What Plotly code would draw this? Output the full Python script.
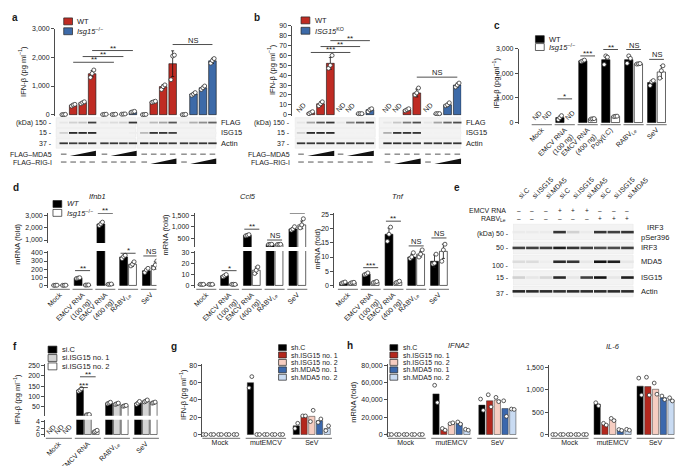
import plotly.graph_objects as go

W, H = 685, 466
FONT = "Liberation Sans, Arial, Helvetica, sans-serif"
TXT = "#1a1a1a"
AX = "#4d4d4d"
RED = "#bf2b23"
BLUE = "#3d6aa8"
SIGRAY = "#d4d4d4"
SH_COLORS = ["#000000", "#b3271d", "#f6cdc1", "#3b68ad", "#c9dbf2"]

# ======================= DATA =======================
# ---- panel a : IFN-beta (pg/ml), 4 groups x 4 lanes ----
a_legend = ["WT", "<i>Isg15</i><sup>−/−</sup>"]
a_genotype = [0, 1, 0, 1]
a_mean = [[5, 330, 420, 1430], [10, 10, 20, 100], [5, 450, 980, 1780], [5, 720, 940, 1880]]
a_err = [[None, 30, 40, 110], [None, None, None, 20], [None, 25, 70, 450], [None, 50, 50, 90]]
a_reps = [
    [[0, 5, 10], [300, 340, 360], [380, 420, 450], [1300, 1440, 1560]],
    [[5, 10, 15], [5, 10, 15], [15, 20, 25], [85, 100, 115]],
    [[0, 5, 10], [430, 450, 470], [880, 980, 1040], [1220, 2050, 2080]],
    [[0, 5, 10], [680, 720, 770], [880, 940, 1000], [1800, 1890, 1960]],
]
a_sig = [((0, 1), (1, 1), 1830, "**"), ((0, 2), (1, 2), 2030, "**"),
         ((0, 3), (1, 3), 2240, "**"), ((2, 3), (3, 3), 2450, "NS")]
a_blot_names = ["FLAG", "ISG15", "Actin"]
a_blot_kda = ["(kDa) 150 -", "15 -", "37 -"]
a_blot = [
    [0.05, 0.15, 0.2, 0.8, 0.05, 0.1, 0.15, 0.85, 0.05, 0.25, 0.35, 0.7, 0.05, 0.3, 0.45, 0.65],
    [0.15, 0.9, 0.9, 0.9, 0.0, 0.0, 0.0, 0.02, 0.25, 0.85, 0.85, 0.8, 0.0, 0.0, 0.0, 0.0],
    [0.85, 0.82, 0.84, 0.85, 0.83, 0.84, 0.82, 0.85, 0.9, 0.86, 0.85, 0.84, 0.83, 0.84, 0.85, 0.86],
]
a_dose_names = ["FLAG–MDA5", "FLAG–RIG-I"]
a_mda5_dose = [0, 1, 2, 3, 0, 1, 2, 3, 0, 0, 0, 0, 0, 0, 0, 0]
a_rig_dose = [0, 0, 0, 0, 0, 0, 0, 0, 0, 1, 2, 3, 0, 1, 2, 3]

# ---- panel b ----
b_legend = ["WT", "<i>ISG15</i><sup>KO</sup>"]
b_genotype = [0, 1, 0, 1]
b_mean = [[None, 2, 11, 52], [None, None, 1, 5], [None, None, 5, 22], [None, 1, 10, 30]]
b_err = [[None, 1, 2, 6], [None, None, None, 1.5], [None, None, 1, 4], [None, None, 1.5, 2]]
b_reps = [
    [[], [1, 2, 3], [9, 11, 13], [47, 50, 60]],
    [[], [], [1, 1, 1], [3, 5, 6]],
    [[], [], [4, 5, 6], [20, 22, 27]],
    [[], [1, 1, 1], [9, 10, 12], [28, 30, 32]],
]
b_sig = [((0, 1), (1, 1), 63, "***"), ((0, 2), (1, 2), 69, "**"),
         ((0, 3), (1, 3), 75, "**"), ((2, 3), (3, 3), 38, "NS")]
b_blot_names = ["FLAG", "ISG15", "Actin"]
b_blot_kda = ["(kDa) 150 -", "15 -", "37 -"]
b_blot = [
    [0.05, 0.35, 0.7, 0.85, 0.05, 0.5, 0.7, 0.85, 0.05, 0.2, 0.55, 0.75, 0.05, 0.35, 0.65, 0.75],
    [0.15, 0.9, 0.9, 0.9, 0.0, 0.0, 0.0, 0.0, 0.3, 0.85, 0.85, 0.85, 0.0, 0.0, 0.0, 0.0],
    [0.85, 0.84, 0.85, 0.86, 0.84, 0.85, 0.84, 0.85, 0.9, 0.88, 0.86, 0.85, 0.84, 0.85, 0.86, 0.85],
]
b_mda5_dose = [0, 1, 2, 3, 0, 1, 2, 3, 0, 0, 0, 0, 0, 0, 0, 0]
b_rig_dose = [0, 0, 0, 0, 0, 0, 0, 0, 0, 1, 2, 3, 0, 1, 2, 3]

# ---- panel c ----
c_cats = ["Mock", "EMCV RNA<br>(100 ng)", "EMCV RNA<br>(400 ng)", "Poly(I:C)", "RABV<sub>Le</sub>", "SeV"]
c_wt = [None, 200, 2500, 2550, 2550, 1620]
c_ko = [None, None, 150, 250, 2380, 2050]
c_wt_err = [None, 60, 30, 150, 120, 70]
c_ko_err = [None, None, 20, 20, 20, 260]
c_wt_reps = [[], [120, 200, 280], [2470, 2500, 2530], [2350, 2700, 2650], [2400, 2700, 2600], [1500, 1650, 1700]]
c_ko_reps = [[], [], [140, 150, 160], [240, 250, 260], [2370, 2380, 2390], [1800, 2100, 2300]]
c_sig = [(1, 960, "*"), (2, 2700, "***"), (3, 2960, "**"), (4, 2960, "NS"), (5, 2560, "NS")]

# ---- panel d ----
d_cats = ["Mock", "EMCV RNA<br>(100 ng)", "EMCV RNA<br>(400 ng)", "RABV<sub>Le</sub>", "SeV"]
d_ifnb1_wt = [2, 90, 2300, 350, 180]
d_ifnb1_ko = [2, 5, 15, 260, 245]
d_ifnb1_wt_err = [None, 5, 150, 20, 25]
d_ifnb1_ko_err = [None, None, None, 25, 45]
d_ifnb1_wt_reps = [[1, 2, 3], [85, 90, 95], [2180, 2300, 2450], [330, 355, 370], [160, 190, 210]]
d_ifnb1_ko_reps = [[1, 2, 3], [4, 5, 6], [14, 15, 17], [240, 260, 290], [215, 250, 300]]
d_ifnb1_sig = [(1, 182, "**", "lo"), (2, 3150, "**", "up"), (3, 395, "*", "lo"), (4, 362, "NS", "lo")]

d_ccl5_wt = [1, 9, 620, 220, 900]
d_ccl5_ko = [1, 1, 14, 220, 1080]
d_ccl5_wt_err = [None, 1, 30, None, 60]
d_ccl5_ko_err = [None, None, 3, None, 170]
d_ccl5_wt_reps = [[1, 1, 1], [8, 9, 10], [600, 620, 650], [215, 220, 225], [850, 900, 1000]]
d_ccl5_ko_reps = [[1, 1, 1], [1, 1, 1], [11, 14, 17], [215, 220, 225], [950, 1080, 1350]]
d_ccl5_sig = [(1, 13.6, "*", "lo"), (2, 890, "**", "up"), (3, 413, "NS", "up"), (4, 1590, "NS", "up")]

d_tnf_wt = [1, 4, 18, 10, 8.5]
d_tnf_ko = [1, 1.2, 1.2, 11, 12]
d_tnf_wt_err = [0.2, 0.3, 2.2, 1, 2.2]
d_tnf_ko_err = [0.2, 0.2, 0.3, 1, 2.5]
d_tnf_wt_reps = [[0.8, 1, 1.2], [3.8, 4, 4.4], [15.5, 18, 20.5], [9.5, 10, 11.5], [7.5, 7.8, 11]]
d_tnf_ko_reps = [[0.8, 1, 1.1], [1, 1.2, 1.4], [1, 1.2, 1.5], [10, 11, 12.5], [8.5, 12.5, 14.5]]
d_tnf_sig = [(1, 6.25, "***"), (2, 22.6, "**"), (3, 13.9, "NS"), (4, 16.7, "NS")]

# ---- panel e (western blot) ----
e_lanes = ["si.C", "si.ISG15", "si.MDA5", "si.C", "si.ISG15", "si.MDA5", "si.C", "si.ISG15", "si.MDA5"]
e_emcv = ["–", "–", "–", "+", "+", "+", "–", "–", "–"]
e_rabv = ["–", "–", "–", "–", "–", "–", "+", "+", "+"]
e_blot_names = ["IRF3<br>pSer396", "IRF3", "MDA5", "ISG15", "Actin"]
e_blot_kda = ["(kDa) 50 -", "50 -", "100 -", "15 -", "37 -"]
e_blot = [
    [0.03, 0.03, 0.03, 0.85, 0.15, 0.03, 0.85, 0.8, 0.85],
    [0.8, 0.8, 0.8, 0.95, 0.85, 0.8, 0.75, 0.75, 0.8],
    [0.1, 0.1, 0.02, 0.9, 0.85, 0.05, 1.0, 0.95, 0.05],
    [0.15, 0.05, 0.12, 0.9, 0.05, 0.8, 1.0, 0.05, 0.95],
    [0.92, 0.9, 0.9, 0.88, 0.9, 0.89, 0.9, 0.9, 0.9],
]

# ---- panel f ----
f_cats = ["Mock", "EMCV RNA", "RABV<sub>Le</sub>", "SeV"]
f_series = ["si.C", "si.ISG15 no. 1", "si.ISG15 no. 2"]
f_vals = [[None, 130, 68, 68], [None, 12, 65, 78], [None, 1, 55, 70]]
f_err = [[None, 6, 3, 7], [None, None, 3, 4], [None, 0.2, 2, 3]]
f_reps = [
    [[], [125, 130, 138], [65, 68, 72], [62, 68, 76]],
    [[], [11, 12, 13], [62, 65, 68], [74, 78, 83]],
    [[], [0.8, 1, 1.3], [53, 55, 57], [68, 70, 73]],
]

# ---- panel g ----
g_cats = ["Mock", "mutEMCV", "SeV"]
g_series = ["sh.C", "sh.ISG15 no. 1", "sh.ISG15 no. 2", "sh.MDA5 no. 1", "sh.MDA5 no. 2"]
g_vals = [[0, 60, 10], [0, 0, 21], [0, 0, 21], [0, 0, 16], [0, 0, 7]]
g_reps = [[[0, 0], [54, 67], [7, 13]], [[0, 0], [0, 0], [21.5, 21.5]], [[0, 0], [0, 0], [15, 28]],
          [[0, 0], [0, 0], [14, 18]], [[0, 0], [0, 0], [4.5, 10]]]

# ---- panel h ----
h_ifna2 = [[0, 47000, 34000], [0, 6000, 39000], [0, 13000, 40000], [0, 13000, 30000], [0, 5500, 29000]]
h_ifna2_reps = [[[0, 0], [57000, 37000], [41000, 28000]], [[0, 0], [7000, 5000], [46000, 32000]],
                [[0, 0], [12500, 13500], [43000, 38000]], [[0, 0], [14500, 12000], [39000, 21000]],
                [[0, 0], [6000, 5000], [29500, 29000]]]
h_il6 = [[0, 680, 1080], [0, 230, 1070], [0, 340, 1010], [0, 100, 820], [0, 100, 770]]
h_il6_reps = [[[0, 0], [710, 640], [1260, 880]], [[0, 0], [250, 210], [1280, 880]],
              [[0, 0], [360, 310], [1150, 900]], [[0, 0], [110, 90], [860, 780]],
              [[0, 0], [115, 95], [820, 750]]]

# ======================= HELPERS =======================
fig = go.Figure()
layout = dict(width=W, height=H, margin=dict(l=0, r=0, t=0, b=0), paper_bgcolor="white",
              plot_bgcolor="rgba(0,0,0,0)", barmode="overlay", showlegend=False,
              font=dict(family=FONT, size=7, color=TXT))
shapes, ann = [], []
TF = dict(size=7, color=TXT, family=FONT)


def xax(n, left, right, p0, s, anchor, **kw):
    key = "xaxis" if n == 1 else f"xaxis{n}"
    d = dict(domain=[left / W, right / W], range=[(left - p0) / s, (right - p0) / s], anchor=anchor,
             showgrid=False, zeroline=False, showline=False, ticks="", showticklabels=False,
             tickfont=TF, fixedrange=True)
    d.update(kw)
    layout[key] = d


def yax(n, top, bottom, va, pa, vb, pb, anchor, **kw):
    key = "yaxis" if n == 1 else f"yaxis{n}"
    sc = (pa - pb) / (vb - va)
    d = dict(domain=[1 - bottom / H, 1 - top / H],
             range=[va - (bottom - pa) / sc, va + (pa - top) / sc], anchor=anchor,
             showgrid=False, zeroline=False, showline=True, linecolor=AX, linewidth=0.8,
             ticks="outside", ticklen=3, tickwidth=0.8, tickcolor=AX, tickfont=TF, fixedrange=True)
    d.update(kw)
    layout[key] = d
    return d["range"]


def pix_yax(n, top, bottom, anchor):
    yax(n, top, bottom, 0, 0, 1, 1, anchor, visible=False)


def ptext(x, y, s, size=7, xanchor="center", yanchor="middle", angle=0, bold=False):
    ann.append(dict(x=x / W, y=1 - y / H, xref="paper", yref="paper",
                    text=f"<b>{s}</b>" if bold else s, showarrow=False, xanchor=xanchor,
                    yanchor=yanchor, textangle=angle, font=dict(size=size, family=FONT, color=TXT)))


def dtext(x, y, s, xa, ya, size=7):
    ann.append(dict(x=x, y=y, xref=xa, yref=ya, text=s, showarrow=False, borderpad=0,
                    font=dict(size=size, family=FONT, color=TXT)))


def bars(xs, ys, xa, ya, width, color, err=None, lc="#111", lw=0.6):
    eb = None
    if err is not None:
        eb = dict(type="data", array=err, visible=True, thickness=0.8, width=1.5, color="#111")
    fig.add_trace(go.Bar(x=xs, y=ys, width=width, xaxis=xa, yaxis=ya, showlegend=False,
                         hoverinfo="skip", marker=dict(color=color, line=dict(color=lc, width=lw)),
                         error_y=eb))


def points(xs, reps, xa, ya, spread, clip=False, lo=None, size=4):
    px_, py_ = [], []
    for xc, r in zip(xs, reps):
        n = len(r)
        for k, v in enumerate(r):
            if lo is not None and not (lo[0] <= v <= lo[1]):
                continue
            px_.append(xc + (k - (n - 1) / 2) * spread)
            py_.append(v)
    fig.add_trace(go.Scatter(x=px_, y=py_, mode="markers", xaxis=xa, yaxis=ya, showlegend=False,
                             hoverinfo="skip", cliponaxis=clip,
                             marker=dict(size=size, color="white", line=dict(color="#333", width=0.8))))


def bracket(x0, x1, y, label, xa, ya, size=8):
    shapes.append(dict(type="line", xref=xa, yref=ya, x0=x0, x1=x1, y0=y, y1=y,
                       line=dict(color="#222", width=0.8)))
    ann.append(dict(x=(x0 + x1) / 2, y=y, xref=xa, yref=ya, text=label, showarrow=False,
                    yanchor="bottom", yshift=-3 if "*" in label else -1, borderpad=0,
                    font=dict(size=size if "*" in label else 7.5, family=FONT, color=TXT)))


def nd(x, xa, ya, y=0, shift=7):
    ann.append(dict(x=x, y=y, xref=xa, yref=ya, text="ND", textangle=-45, showarrow=False,
                    yshift=shift, font=dict(size=7, family=FONT, color=TXT)))


def gray(v):
    g = int(round(242 - 222 * v))
    return f"rgb({g},{g},{g})"


def blot(xa, ya, xs, rows_y, inten, strips, half_h, bw, bh):
    for r, yc in enumerate(rows_y):
        for (x0, x1) in strips:
            shapes.append(dict(type="rect", xref=xa, yref=ya, x0=x0, x1=x1, y0=yc - half_h[r],
                               y1=yc + half_h[r], fillcolor="#f3f3f3",
                               line=dict(color="#e4e4e4", width=0.5), layer="below"))
        cols = [gray(v) for v in inten[r]]
        fig.add_trace(go.Scatter(x=xs, y=[yc] * len(xs), mode="markers", xaxis=xa, yaxis=ya,
                                 showlegend=False, hoverinfo="skip", cliponaxis=False,
                                 marker=dict(symbol="line-ew", size=bw, color=cols,
                                             line=dict(color=cols, width=bh))))


def dose_row(xa, ya, xs, doses, yc):
    dx = [x for x, d in zip(xs, doses) if d == 0]
    fig.add_trace(go.Scatter(x=dx, y=[yc] * len(dx), mode="markers", xaxis=xa, yaxis=ya,
                             showlegend=False, hoverinfo="skip", cliponaxis=False,
                             marker=dict(symbol="line-ew", size=4, line=dict(color="#444", width=0.9))))
    i, n = 0, len(doses)
    while i < n:
        if doses[i] > 0:
            j = i
            while j + 1 < n and doses[j + 1] > doses[j]:
                j += 1
            x0, x1 = xs[i] - 0.35, xs[j] + 0.4
            shapes.append(dict(type="path", xref=xa, yref=ya,
                               path=f"M {x0},{yc + 2} L {x1},{yc + 2} L {x1},{yc - 3.5} Z",
                               fillcolor="#111", line=dict(width=0)))
            i = j + 1
        else:
            i += 1


def legend_item(x, y, color, label, w=9, h=7, size=7.5):
    shapes.append(dict(type="rect", xref="paper", yref="paper", x0=x / W, x1=(x + w) / W,
                       y0=1 - (y + h / 2) / H, y1=1 - (y - h / 2) / H, fillcolor=color,
                       line=dict(color="#222", width=0.7)))
    ptext(x + w + 3, y, label, size=size, xanchor="left")


def underlines(n, xa, ypx, half=0.44):
    for c in range(n):
        shapes.append(dict(type="line", xref=xa, yref="paper", x0=c - half, x1=c + half,
                           y0=1 - ypx / H, y1=1 - ypx / H, line=dict(color="#8a8a8a", width=1.2)))


YT = "IFN-β (pg ml<sup>−1</sup>)"

# ======================= PANEL a =======================
A_OFF = [0, 4.3, 8.5, 12.7]
xax(1, 46, 212, 55, 9.7, "y")
yax(1, 17, 105, 0, 104, 3000, 17, "x", tickvals=[0, 1000, 2000, 3000],
    ticktext=["0", "1,000", "2,000", "3,000"])
pix_yax(2, 106, 158, "x")
a_x = [[A_OFF[g] + i for i in range(4)] for g in range(4)]
for g in range(4):
    bars(a_x[g], a_mean[g], "x", "y", 0.8, [RED, BLUE][a_genotype[g]], a_err[g])
    points(a_x[g], a_reps[g], "x", "y", 0.18)
for (g0, l0), (g1, l1), yv, lab in a_sig:
    bracket(a_x[g0][l0], a_x[g1][l1], yv, lab, "x", "y")
A_ROWS = [112, 122.5, 133]
a_flat = sum(a_x, [])
blot("x", "y2", a_flat, A_ROWS, a_blot,
     [(A_OFF[0] - 0.8, A_OFF[1] + 3.3), (A_OFF[2] - 0.75, A_OFF[3] + 3.35)], [5, 4.5, 5], 6, 1.8)
dose_row("x", "y2", a_flat, a_mda5_dose, 144)
dose_row("x", "y2", a_flat, a_rig_dose, 152)
for nm, kd, yc in zip(a_blot_names, a_blot_kda, A_ROWS):
    ptext(45, yc, kd, xanchor="right")
    ptext(214, yc, nm, xanchor="left", size=7.5)
ptext(45, 144, a_dose_names[0], xanchor="right")
ptext(45, 152, a_dose_names[1], xanchor="right")
legend_item(55, 9.5, RED, a_legend[0])
legend_item(55, 19.5, BLUE, a_legend[1])
ptext(13, 60, YT, angle=-90, size=7.5)
ptext(5, 6, "a", size=10, bold=True)

# ======================= PANEL b =======================
B_OFF = [0, 4.05, 8.85, 13.0]
xax(2, 289, 462, 298, 10, "y3")
yax(3, 14, 105, 0, 104, 90, 14, "x2", tickvals=list(range(0, 91, 10)))
pix_yax(4, 106, 158, "x2")
b_x = [[B_OFF[g] + i for i in range(4)] for g in range(4)]
for g in range(4):
    bars(b_x[g], b_mean[g], "x2", "y3", 0.8, [RED, BLUE][b_genotype[g]], b_err[g])
    points(b_x[g], b_reps[g], "x2", "y3", 0.18)
    for i, v in enumerate(b_mean[g]):
        if v is None:
            nd(b_x[g][i], "x2", "y3")
for (g0, l0), (g1, l1), yv, lab in b_sig:
    bracket(b_x[g0][l0], b_x[g1][l1], yv, lab, "x2", "y3")
b_flat = sum(b_x, [])
blot("x2", "y4", b_flat, A_ROWS, b_blot,
     [(B_OFF[0] - 0.6, B_OFF[1] + 3.55), (B_OFF[2] - 0.85, B_OFF[3] + 3.4)], [5, 4.5, 5], 6, 1.8)
dose_row("x2", "y4", b_flat, b_mda5_dose, 144)
dose_row("x2", "y4", b_flat, b_rig_dose, 152)
for nm, kd, yc in zip(b_blot_names, b_blot_kda, A_ROWS):
    ptext(289, yc, kd, xanchor="right")
    ptext(465, yc, nm, xanchor="left", size=7.5)
ptext(289, 144, a_dose_names[0], xanchor="right")
ptext(289, 152, a_dose_names[1], xanchor="right")
legend_item(298, 8.5, RED, b_legend[0])
legend_item(298, 19, BLUE, b_legend[1])
ptext(268, 58, YT, angle=-90, size=7.5)
ptext(253, 6, "b", size=10, bold=True)

# ======================= PANEL c =======================
xax(3, 521, 680, 544.5, 23.5, "y5", showticklabels=True, tickvals=list(range(6)),
    ticktext=c_cats, tickangle=-45)
yax(5, 37, 113, 0, 112, 3000, 37, "x3", tickvals=[0, 1000, 2000, 3000],
    ticktext=["0", "1,000", "2,000", "3,000"])
cx = list(range(6))
bars([c - 0.21 for c in cx], c_wt, "x3", "y5", 0.36, "#000", c_wt_err)
bars([c + 0.21 for c in cx], c_ko, "x3", "y5", 0.36, "#fff", c_ko_err, lc="#222", lw=0.7)
points([c - 0.21 for c in cx], c_wt_reps, "x3", "y5", 0.07)
points([c + 0.21 for c in cx], c_ko_reps, "x3", "y5", 0.07)
for c in cx:
    if c_wt[c] is None:
        nd(c - 0.21, "x3", "y5")
    if c_ko[c] is None:
        nd(c + 0.21, "x3", "y5")
for c, yv, lab in c_sig:
    bracket(c - 0.32, c + 0.32, yv, lab, "x3", "y5")
underlines(6, "x3", 114)
legend_item(538, 27.5, "#000", "WT")
legend_item(538, 35.5, "#fff", "<i>Isg15</i><sup>−/−</sup>")
ptext(498, 72, YT, angle=-90, size=7.5)
ptext(499, 14, "c", size=10, bold=True)


# ======================= PANEL d =======================
def d_sub(xn, yl, yu, left, right, p0, wt, ko, wte, koe, wtr, kor, sig, lo_map, up_map,
          lo_ticks, up_ticks, xa, title, title_x, yt_x, yt_y):
    xax(xn, left, right, p0, 23.3, f"y{yl}", showticklabels=True, tickvals=list(range(5)),
        ticktext=d_cats, tickangle=-45)
    ylab, yup = f"y{yl}", (f"y{yu}" if yu else None)
    rl = yax(yl, lo_map[0], lo_map[1], *lo_map[2:], xa, tickvals=lo_ticks[0], ticktext=lo_ticks[1])
    cats = list(range(5))
    xw = [c - 0.195 for c in cats]
    xk = [c + 0.195 for c in cats]
    axes = [(ylab, rl)]
    if yu:
        ru = yax(yu, up_map[0], up_map[1], *up_map[2:], xa, tickvals=up_ticks[0], ticktext=up_ticks[1])
        axes.append((yup, ru))
    for ya, rg in axes:
        bars(xw, wt, xa, ya, 0.345, "#000", wte)
        bars(xk, ko, xa, ya, 0.345, "#fff", koe, lc="#222", lw=0.7)
        points(xw, wtr, xa, ya, 0.07, clip=bool(yu), lo=rg if yu else None)
        points(xk, kor, xa, ya, 0.07, clip=bool(yu), lo=rg if yu else None)
    for item in sig:
        c, yv, lab = item[0], item[1], item[2]
        ya = yup if (len(item) > 3 and item[3] == "up") else ylab
        bracket(c - 0.33, c + 0.33, yv, lab, xa, ya)
    underlines(5, xa, 281)
    ptext(title_x, 187, f"<i>{title}</i>", size=7.5)
    ptext(yt_x, yt_y, "mRNA (fold)", angle=-90, size=7.5)


d_sub(4, 6, 7, 39, 150, 51, d_ifnb1_wt, d_ifnb1_ko, d_ifnb1_wt_err, d_ifnb1_ko_err,
      d_ifnb1_wt_reps, d_ifnb1_ko_reps, d_ifnb1_sig,
      (242, 280, 0, 277, 400, 244), (204, 234, 1000, 231, 3000, 206),
      ([0, 100, 200, 300, 400], ["0", "100", "200", "300", "400"]),
      ([1000, 2000, 3000], ["1,000", "2,000", "3,000"]), "x4", "Ifnb1", 90, 8, 235)
d_sub(5, 8, 9, 189, 305, 201, d_ccl5_wt, d_ccl5_ko, d_ccl5_wt_err, d_ccl5_ko_err,
      d_ccl5_wt_reps, d_ccl5_ko_reps, d_ccl5_sig,
      (242, 280, 0, 277, 30, 244), (204, 238, 500, 229, 1500, 206),
      ([0, 10, 20, 30], ["0", "10", "20", "30"]),
      ([500, 1000, 1500], ["500", "1,000", "1,500"]), "x5", "Ccl5", 244, 159, 226)
d_sub(6, 10, None, 332, 455, 346, d_tnf_wt, d_tnf_ko, d_tnf_wt_err, d_tnf_ko_err,
      d_tnf_wt_reps, d_tnf_ko_reps, d_tnf_sig,
      (204, 280, 0, 277, 25, 205), None,
      ([0, 5, 10, 15, 20, 25], ["0", "5", "10", "15", "20", "25"]), None, "x6", "Tnf", 397, 315, 240)
legend_item(44, 194.5, "#000", "<i>WT</i>")
legend_item(44, 203.5, "#fff", "<i>Isg15</i><sup>−/−</sup>")
ptext(6, 178, "d", size=10, bold=True)

# ======================= PANEL e =======================
xax(7, 515, 640, 521, 13.9, "y11", side="top", showticklabels=True, tickvals=list(range(9)),
    ticktext=e_lanes, tickangle=-45)
pix_yax(11, 193, 292, "x7")
ex = list(range(9))
for i in ex:
    dtext(i, 201.5, e_emcv[i], "x7", "y11", size=6.5)
    dtext(i, 209.5, e_rabv[i], "x7", "y11", size=6.5)
ptext(510, 201.5, "EMCV RNA", xanchor="right")
ptext(510, 210, "RABV<sub>Le</sub>", xanchor="right")
E_ROWS = [223, 239, 253, 269, 283]
blot("x7", "y11", ex, E_ROWS, e_blot, [(-0.43, 8.42)], [8, 6, 6.5, 7, 5.5], 9, 2.6)
for nm, kd, yc, ky in zip(e_blot_names, e_blot_kda, E_ROWS, [225, 239, 257, 269, 285]):
    ptext(513, ky, kd, xanchor="right")
    ptext(644, yc, nm, xanchor="left", size=7.5)
ptext(458, 178, "e", size=10, bold=True)

# ======================= PANEL f =======================
xax(8, 36, 155, 50, 29.7, "y12", showticklabels=True, tickvals=list(range(4)),
    ticktext=f_cats, tickangle=-45)
rl = yax(12, 413, 431, 0, 428, 4, 415, "x8", tickvals=[0, 2, 4])
ru = yax(13, 357, 409, 50, 400, 250, 358, "x8", tickvals=[50, 100, 150, 200, 250])
F_COL = ["#000", SIGRAY, "#fff"]
for s in range(3):
    xs = [c + (s - 1) * 0.27 for c in range(4)]
    for ya, rg in (("y12", rl), ("y13", ru)):
        bars(xs, f_vals[s], "x8", ya, 0.235, F_COL[s], f_err[s], lc="#222", lw=0.6)
        points(xs, f_reps[s], "x8", ya, 0.05, clip=True, lo=rg)
    for c in range(4):
        if f_vals[s][c] is None:
            nd(xs[c], "x8", "y12", shift=5)
bracket(1 - 0.27, 1.0, 143, "***", "x8", "y13")
bracket(1 - 0.27, 1.27, 195, "**", "x8", "y13")
underlines(4, "x8", 432, half=0.45)
for s in range(3):
    legend_item(39, 342 + 8.5 * s, F_COL[s], f_series[s])
ptext(7, 392, YT, angle=-90, size=7.5)
ptext(5, 339, "f", size=10, bold=True)


# ======================= PANELS g, h =======================
def five_panel(xn, yn, left, right, p0, s, top, vtop, ptop, vals, reps, ticks):
    xa, ya = ("x" + str(xn)), ("y" + str(yn))
    xax(xn, left, right, p0, s, ya, showticklabels=True, tickvals=[0, 1, 2], ticktext=g_cats)
    yax(yn, top, 431, 0, 428, vtop, ptop, xa, tickvals=ticks[0], ticktext=ticks[1])
    step = 7.9 / s
    for k in range(5):
        xs = [c + (k - 2) * step for c in range(3)]
        bars(xs, vals[k], xa, ya, 6.4 / s, SH_COLORS[k], None, lc="#333", lw=0.5)
        points(xs, reps[k], xa, ya, 2.8 / s, size=3.8)
    underlines(3, xa, 432, half=0.44)


five_panel(9, 14, 197, 335, 215, 47, 357, 80, 358, g_vals, g_reps,
           ([0, 20, 40, 60, 80], ["0", "20", "40", "60", "80"]))
five_panel(10, 15, 387, 525, 405, 47, 357, 80000, 358, h_ifna2, h_ifna2_reps,
           ([0, 20000, 40000, 60000, 80000], ["0", "20,000", "40,000", "60,000", "80,000"]))
five_panel(11, 16, 552, 685, 573, 44, 358, 1500, 360, h_il6, h_il6_reps,
           ([0, 500, 1000, 1500], ["0", "500", "1,000", "1,500"]))
for k in range(5):
    legend_item(275, 340 + 7.5 * k, SH_COLORS[k], g_series[k], w=8, h=6, size=7)
    legend_item(389, 340 + 7.5 * k, SH_COLORS[k], g_series[k], w=8, h=6, size=7)
ptext(177, 387, YT, angle=-90, size=7.5)
ptext(352, 395, "mRNA (fold)", angle=-90, size=7.5)
ptext(460, 338, "<i>IFNA2</i>", size=7.5)
ptext(617, 339, "<i>IL-6</i>", size=7.5)
ptext(168, 339, "g", size=10, bold=True)
ptext(348, 338, "h", size=10, bold=True)

layout["shapes"] = shapes
layout["annotations"] = ann
fig.update_layout(**layout)
fig.write_html("out.html")
